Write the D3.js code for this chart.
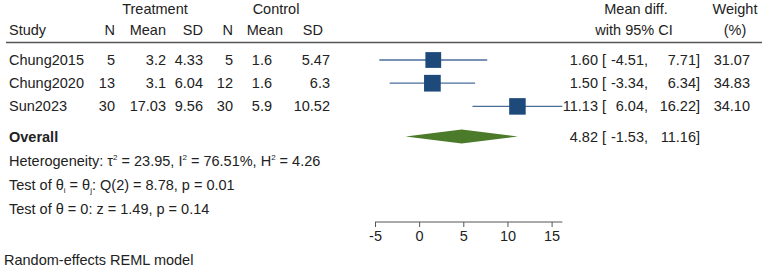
<!DOCTYPE html>
<html>
<head>
<meta charset="utf-8">
<script src="https://cdn.jsdelivr.net/npm/d3@7"></script>
<style>
  body { margin: 0; background: #fff; }
  text { font-family: "Liberation Sans", Arial, sans-serif; font-size: 14.5px; fill: #222; }
</style>
</head>
<body>
<svg id="chart" width="767" height="269"></svg>
<script>
// study data
var studies = ["Chung2015", "Chung2020", "Sun2023"];
var trtN = [5, 13, 30];
var trtMean = ["3.2", "3.1", "17.03"];
var trtSD = ["4.33", "6.04", "9.56"];
var ctlN = [5, 12, 30];
var ctlMean = ["1.6", "1.6", "5.9"];
var ctlSD = ["5.47", "6.3", "10.52"];
var est = [1.60, 1.50, 11.13];
var lo = [-4.51, -3.34, 6.04];
var hi = [7.71, 6.34, 16.22];
var weight = [31.07, 34.83, 34.10];
var overall = { est: 4.82, lo: -1.53, hi: 11.16 };
var xTicks = [-5, 0, 5, 10, 15];

var svg = d3.select("#chart");

var x = d3.scaleLinear().domain([-5, 15]).range([375, 551.6]);
var rowY = function (i) { return 60 + i * 23.2; };

// headers
var head = svg.append("g");
head.append("text").attr("x", 155).attr("y", 14).attr("text-anchor", "middle").text("Treatment");
head.append("text").attr("x", 276).attr("y", 14).attr("text-anchor", "middle").text("Control");
head.append("text").attr("x", 9).attr("y", 35).text("Study");
var cols = [
    { x: 115, t: "N" },
    { x: 166, t: "Mean" },
    { x: 203, t: "SD" },
    { x: 233, t: "N" },
    { x: 283, t: "Mean" },
    { x: 323, t: "SD" }
];
cols.forEach(function (c) {
    head.append("text").attr("x", c.x).attr("y", 35).attr("text-anchor", "end").text(c.t);
});
head.append("text").attr("x", 636).attr("y", 14).attr("text-anchor", "middle").text("Mean diff.");
head.append("text").attr("x", 634).attr("y", 35).attr("text-anchor", "middle").text("with 95% CI");
head.append("text").attr("x", 735).attr("y", 14).attr("text-anchor", "middle").text("Weight");
head.append("text").attr("x", 735).attr("y", 35).attr("text-anchor", "middle").text("(%)");

svg.append("line").attr("x1", 6).attr("x2", 762).attr("y1", 42.5).attr("y2", 42.5)
    .attr("stroke", "#555").attr("stroke-width", 1.3);

// study rows
var rows = svg.selectAll("g.row").data(studies).enter().append("g").attr("class", "row");
var colX = [115, 166, 203, 233, 272, 330];
var colData = [trtN, trtMean, trtSD, ctlN, ctlMean, ctlSD];
rows.each(function (d, i) {
    var g = d3.select(this);
    var y = rowY(i);
    g.append("text").attr("x", 9).attr("y", y + 5).text(d);
    colData.forEach(function (arr, j) {
        g.append("text").attr("x", colX[j]).attr("y", y + 5).attr("text-anchor", "end").text(arr[i]);
    });
    g.append("line").attr("x1", x(lo[i])).attr("x2", x(hi[i])).attr("y1", y).attr("y2", y)
        .attr("stroke", "#4a6e98").attr("stroke-width", 1.3);
    var s = 16.5 * Math.sqrt(weight[i] / 34);
    g.append("rect").attr("x", x(est[i]) - s / 2).attr("y", y - s / 2)
        .attr("width", s).attr("height", s).attr("fill", "#1d4a7b");
    g.append("text").attr("x", 598).attr("y", y + 5).attr("text-anchor", "end").text(est[i].toFixed(2));
    g.append("text").attr("x", 602).attr("y", y + 5).text("[");
    g.append("text").attr("x", 648).attr("y", y + 5).attr("text-anchor", "end").text(lo[i].toFixed(2) + ",");
    g.append("text").attr("x", 700).attr("y", y + 5).attr("text-anchor", "end").text(hi[i].toFixed(2) + "]");
    g.append("text").attr("x", 750).attr("y", y + 5).attr("text-anchor", "end").text(weight[i].toFixed(2));
});

// overall
var oy = 136.5;
svg.append("text").attr("x", 9).attr("y", oy + 5).attr("font-weight", "bold").text("Overall");
svg.append("path")
    .attr("d", "M" + x(overall.lo) + "," + oy + "L" + x(overall.est) + "," + (oy - 7) +
        "L" + x(overall.hi) + "," + oy + "L" + x(overall.est) + "," + (oy + 7) + "Z")
    .attr("fill", "#4b7a2b");
svg.append("text").attr("x", 598).attr("y", oy + 5).attr("text-anchor", "end").text(overall.est.toFixed(2));
svg.append("text").attr("x", 602).attr("y", oy + 5).text("[");
svg.append("text").attr("x", 648).attr("y", oy + 5).attr("text-anchor", "end").text(overall.lo.toFixed(2) + ",");
svg.append("text").attr("x", 700).attr("y", oy + 5).attr("text-anchor", "end").text(overall.hi.toFixed(2) + "]");

// heterogeneity notes
var t1 = svg.append("text").attr("x", 9).attr("y", 166);
t1.append("tspan").text("Heterogeneity: τ");
t1.append("tspan").attr("dy", -6).style("font-size", "8px").text("2");
t1.append("tspan").attr("dy", 6).text(" = 23.95, I");
t1.append("tspan").attr("dy", -6).style("font-size", "8px").text("2");
t1.append("tspan").attr("dy", 6).text(" = 76.51%, H");
t1.append("tspan").attr("dy", -6).style("font-size", "8px").text("2");
t1.append("tspan").attr("dy", 6).text(" = 4.26");

var t2 = svg.append("text").attr("x", 9).attr("y", 190);
t2.append("tspan").text("Test of θ");
t2.append("tspan").attr("dy", 3).style("font-size", "8px").text("i");
t2.append("tspan").attr("dy", -3).text(" = θ");
t2.append("tspan").attr("dy", 3).style("font-size", "8px").text("j");
t2.append("tspan").attr("dy", -3).text(": Q(2) = 8.78, p = 0.01");

svg.append("text").attr("x", 9).attr("y", 214).text("Test of θ = 0: z = 1.49, p = 0.14");
svg.append("text").attr("x", 4).attr("y", 265).text("Random-effects REML model");

// axis
var axis = d3.axisBottom(x).tickValues(xTicks).tickFormat(function (d) { return String(d); })
    .tickSize(5).tickSizeOuter(0).tickPadding(4);
var ag = svg.append("g").attr("transform", "translate(0,222)").call(axis);
ag.select(".domain").attr("d", "M" + x(-5) + ",0H" + x(16.22)).attr("stroke", "#555");
ag.selectAll(".tick line").attr("stroke", "#555");
ag.selectAll(".tick text").style("font-family", "'Liberation Sans', Arial, sans-serif")
    .style("font-size", "14.5px").attr("fill", "#222");
</script>
</body>
</html>
